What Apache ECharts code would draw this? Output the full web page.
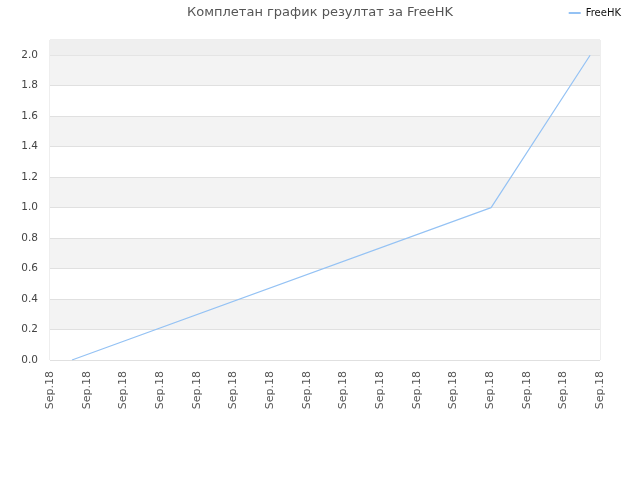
<!DOCTYPE html>
<html>
    <head>
        <meta charset="utf-8">
        <script src="https://cdn.jsdelivr.net/npm/echarts@6.0.0/dist/echarts.min.js"></script>
    </head>
    <body style="margin:0">
        <div id="main" style="width: 640px; height: 480px;"></div>
        <script>
            // x positions are tick indexes (one "Sep.18" label per tick)
            var tickLabels = ['Sep.18', 'Sep.18', 'Sep.18', 'Sep.18', 'Sep.18', 'Sep.18', 'Sep.18', 'Sep.18',
                              'Sep.18', 'Sep.18', 'Sep.18', 'Sep.18', 'Sep.18', 'Sep.18', 'Sep.18', 'Sep.18'];
            var pointX = [0.6, 12.03, 14.73];
            var pointY = [0.0, 1.0, 2.0];
            var seriesName = 'FreeHK';

            var chartDom = document.getElementById('main');
            var myChart = echarts.init(chartDom);

            var lineData = pointX.map(function (x, i) {
                return [x, pointY[i]];
            });

            var option = {
                animation: false,
                title: {
                    text: 'Комплетан график резултат за FreeHK',
                    left: 'center',
                    top: 1,
                    textStyle: {
                        fontFamily: 'DejaVu Sans',
                        fontSize: 13,
                        fontWeight: 'normal',
                        color: '#555',
                        letterSpacing: 0.5
                    }
                },
                legend: {
                    right: 14,
                    top: 3,
                    itemWidth: 12,
                    itemHeight: 2,
                    itemGap: 6,
                    icon: 'rect',
                    textStyle: { fontFamily: 'DejaVu Sans', fontSize: 10, color: '#111' },
                    data: [seriesName]
                },
                grid: {
                    left: 50,
                    right: 40,
                    top: 40,
                    bottom: 120,
                    show: true,
                    borderColor: '#ddd',
                    borderWidth: 1
                },
                xAxis: {
                    type: 'value',
                    min: 0,
                    max: tickLabels.length - 1,
                    interval: 1,
                    axisLine: { show: false },
                    axisTick: { show: false },
                    splitLine: { show: false },
                    axisLabel: {
                        rotate: 90,
                        fontFamily: 'DejaVu Sans',
                        fontSize: 11,
                        color: '#555',
                        margin: 11,
                        formatter: function (v) {
                            return tickLabels[Math.round(v)] || '';
                        }
                    }
                },
                yAxis: {
                    type: 'value',
                    min: 0,
                    max: 2.1,
                    interval: 0.2,
                    axisLine: { show: false },
                    axisTick: { show: false },
                    splitLine: { lineStyle: { color: '#e0e0e0' } },
                    splitArea: { show: true, areaStyle: { color: ['#ffffff', '#f3f3f3'] } },
                    axisLabel: {
                        fontFamily: 'DejaVu Sans',
                        fontSize: 10.5,
                        color: '#444',
                        margin: 12,
                        showMaxLabel: false,
                        formatter: function (v) { return v.toFixed(1); }
                    }
                },
                series: [{
                    name: seriesName,
                    type: 'line',
                    data: lineData,
                    showSymbol: false,
                    color: '#94c2f4',
                    lineStyle: { width: 1.2, color: '#94c2f4' },
                    markArea: {
                        silent: true,
                        itemStyle: { color: '#efefef' },
                        data: [[{ yAxis: 2.0 }, { yAxis: 2.1 }]]
                    }
                }]
            };

            myChart.setOption(option);
        </script>
    </body>
</html>
